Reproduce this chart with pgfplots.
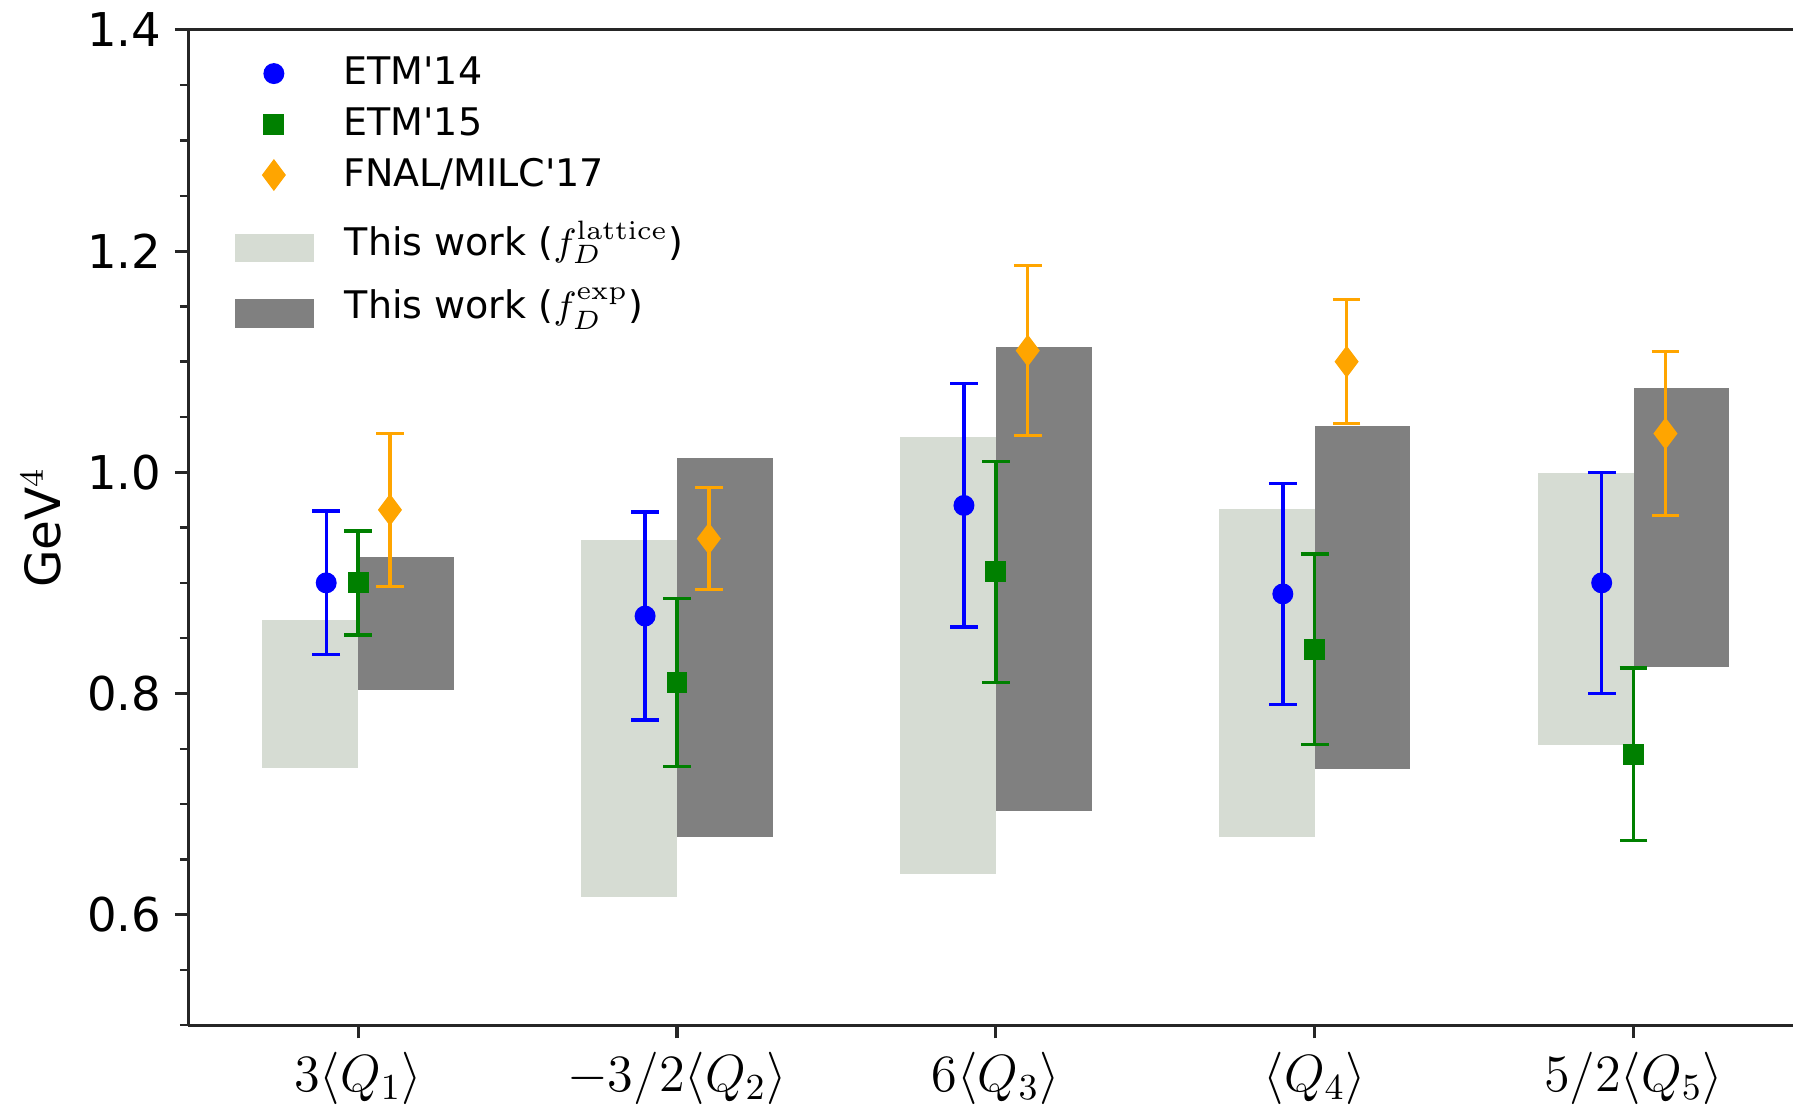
\RequirePackage{fix-cm}
\documentclass[border=0pt]{standalone}
\usepackage[no-math]{fontspec}
\setmainfont{DejaVu Sans}
\usepackage{pgfplots}
\pgfplotsset{compat=1.18}
\definecolor{lightbar}{RGB}{214,220,211}
\definecolor{darkbar}{RGB}{128,128,128}
\definecolor{mplgreen}{RGB}{0,128,0}
\definecolor{mplorange}{RGB}{255,165,0}
\pgfplotsset{
  markleg/.style={legend image code/.code={\path[draw=none,fill=none] (0pt,-1pt) rectangle (19.8pt,1pt);\draw[mark repeat=2,mark phase=2,##1] plot coordinates {(0pt,0pt) (9.9pt,0pt) (19.8pt,0pt)};}},
  lightleg/.style={legend image code/.code={\fill[lightbar] (0pt,-5.3pt) rectangle (19.8pt,1.7pt);}},
  darkleg/.style={legend image code/.code={\fill[darkbar] (0pt,-5.3pt) rectangle (19.8pt,1.7pt);}},
}
\begin{document}
\begin{tikzpicture}
\begin{axis}[
  scale only axis, width=413.7pt, height=256.6pt,
  xmin=-0.533, xmax=4.5, ymin=0.5, ymax=1.4,
  axis x line*=box, axis y line*=left,
  x axis line style={-}, y axis line style={-},
  axis line style={line width=0.8pt, black!85},
  xtick={0,1,2,3,4},
  xticklabels={$3\langle Q_1\rangle$, $-3/2\langle Q_2\rangle$, $6\langle Q_3\rangle$, $\langle Q_4\rangle$, $5/2\langle Q_5\rangle$},
  xtick pos=lower, ytick pos=left,
  ytick={0.6,0.8,1.0,1.2,1.4},
  yticklabels={0.6,0.8,1.0,1.2,1.4},
  minor ytick={0.5,0.55,0.65,0.7,0.75,0.85,0.9,0.95,1.05,1.1,1.15,1.25,1.3,1.35},
  tick align=outside,
  major tick length=3.4pt, minor tick length=2.1pt,
  tick style={black!85, line width=0.8pt},
  minor tick style={line width=0.6pt},
  yticklabel style={font=\fontsize{12}{14}\selectfont},
  xticklabel style={font=\fontsize{13.5}{16}\selectfont},
  ylabel={GeV$^4$},
  every axis y label/.style={at={(rel axis cs:0,0.5)}, xshift=-37.9pt, rotate=90, anchor=center, font=\fontsize{12.5}{15}\selectfont},
  legend style={at={(0,1)}, anchor=north west, xshift=12.2pt, yshift=-6.95pt,
    draw=none, fill=none, inner sep=0pt, outer sep=0pt, row sep=4.4pt, column sep=8pt,
    font=\fontsize{9.8}{11}\selectfont, nodes={inner sep=0pt}},
  legend cell align=left,
]
% light bars (f_D lattice)
\addplot[fill=lightbar, draw=none, forget plot] coordinates {(-0.3,0.733) (0,0.733) (0,0.866) (-0.3,0.866)};
\addplot[fill=lightbar, draw=none, forget plot] coordinates {(0.7,0.616) (1,0.616) (1,0.939) (0.7,0.939)};
\addplot[fill=lightbar, draw=none, forget plot] coordinates {(1.7,0.637) (2,0.637) (2,1.032) (1.7,1.032)};
\addplot[fill=lightbar, draw=none, forget plot] coordinates {(2.7,0.670) (3,0.670) (3,0.967) (2.7,0.967)};
\addplot[fill=lightbar, draw=none, forget plot] coordinates {(3.7,0.753) (4,0.753) (4,0.999) (3.7,0.999)};
% dark bars (f_D exp)
\addplot[fill=darkbar, draw=none, forget plot] coordinates {(0,0.803) (0.3,0.803) (0.3,0.923) (0,0.923)};
\addplot[fill=darkbar, draw=none, forget plot] coordinates {(1,0.670) (1.3,0.670) (1.3,1.013) (1,1.013)};
\addplot[fill=darkbar, draw=none, forget plot] coordinates {(2,0.694) (2.3,0.694) (2.3,1.113) (2,1.113)};
\addplot[fill=darkbar, draw=none, forget plot] coordinates {(3,0.732) (3.3,0.732) (3.3,1.042) (3,1.042)};
\addplot[fill=darkbar, draw=none, forget plot] coordinates {(4,0.824) (4.3,0.824) (4.3,1.076) (4,1.076)};
% ETM'14
\addplot[only marks, mark=*, color=blue, mark size=2.5pt, mark options={solid, fill=blue}, markleg,
  error bars/.cd, y dir=both, y explicit,
  error bar style={line width=0.86pt, blue},
  error mark options={rotate=90, mark size=3.57pt, line width=0.86pt, blue}]
  table[x=x, y=y, y error=e] {
x y e
-0.1 0.900 0.065
0.9 0.870 0.094
1.9 0.970 0.110
2.9 0.890 0.100
3.9 0.900 0.100
};
\addlegendentry{ETM\textquotesingle14}
% ETM'15
\addplot[only marks, mark=square*, color=mplgreen, mark size=2.5pt, mark options={solid, fill=mplgreen}, markleg,
  error bars/.cd, y dir=both, y explicit,
  error bar style={line width=0.86pt, mplgreen},
  error mark options={rotate=90, mark size=3.57pt, line width=0.86pt, mplgreen}]
  table[x=x, y=y, y error=e] {
x y e
0 0.900 0.047
1 0.810 0.076
2 0.910 0.100
3 0.840 0.086
4 0.745 0.078
};
\addlegendentry{ETM\textquotesingle15}
% FNAL/MILC'17
\addplot[only marks, mark=diamond*, color=mplorange, mark size=3.8pt, mark options={solid, fill=mplorange}, markleg,
  error bars/.cd, y dir=both, y explicit,
  error bar style={line width=0.86pt, mplorange},
  error mark options={rotate=90, mark size=3.57pt, line width=0.86pt, mplorange}]
  table[x=x, y=y, y error=e] {
x y e
0.1 0.966 0.069
1.1 0.940 0.046
2.1 1.110 0.077
3.1 1.100 0.056
4.1 1.035 0.074
};
\addlegendentry{FNAL/MILC\textquotesingle17}
\coordinate (bl) at (rel axis cs:0,0);
\coordinate (tr) at (rel axis cs:1,1);
\end{axis}
% second (legend-only) axis for the two "This work" bands
\begin{axis}[
  scale only axis, width=413.7pt, height=256.6pt,
  xmin=0, xmax=1, ymin=0, ymax=1, hide axis,
  legend style={at={(0,1)}, anchor=north west, xshift=12.2pt, yshift=-49.2pt,
    draw=none, fill=none, inner sep=0pt, outer sep=0pt, row sep=6.75pt, column sep=8pt,
    font=\fontsize{9.8}{11}\selectfont, nodes={inner sep=0pt}},
  legend cell align=left,
]
\addlegendimage{lightleg}
\addlegendentry{This work ($f_D^{\mathrm{lattice}}$)}
\addlegendimage{darkleg}
\addlegendentry{This work ($f_D^{\mathrm{exp}}$)}
\end{axis}
\pgfresetboundingbox
\useasboundingbox ([xshift=-48.5pt,yshift=-21pt]bl) rectangle ([yshift=7.7pt]tr);
\end{tikzpicture}
\end{document}
